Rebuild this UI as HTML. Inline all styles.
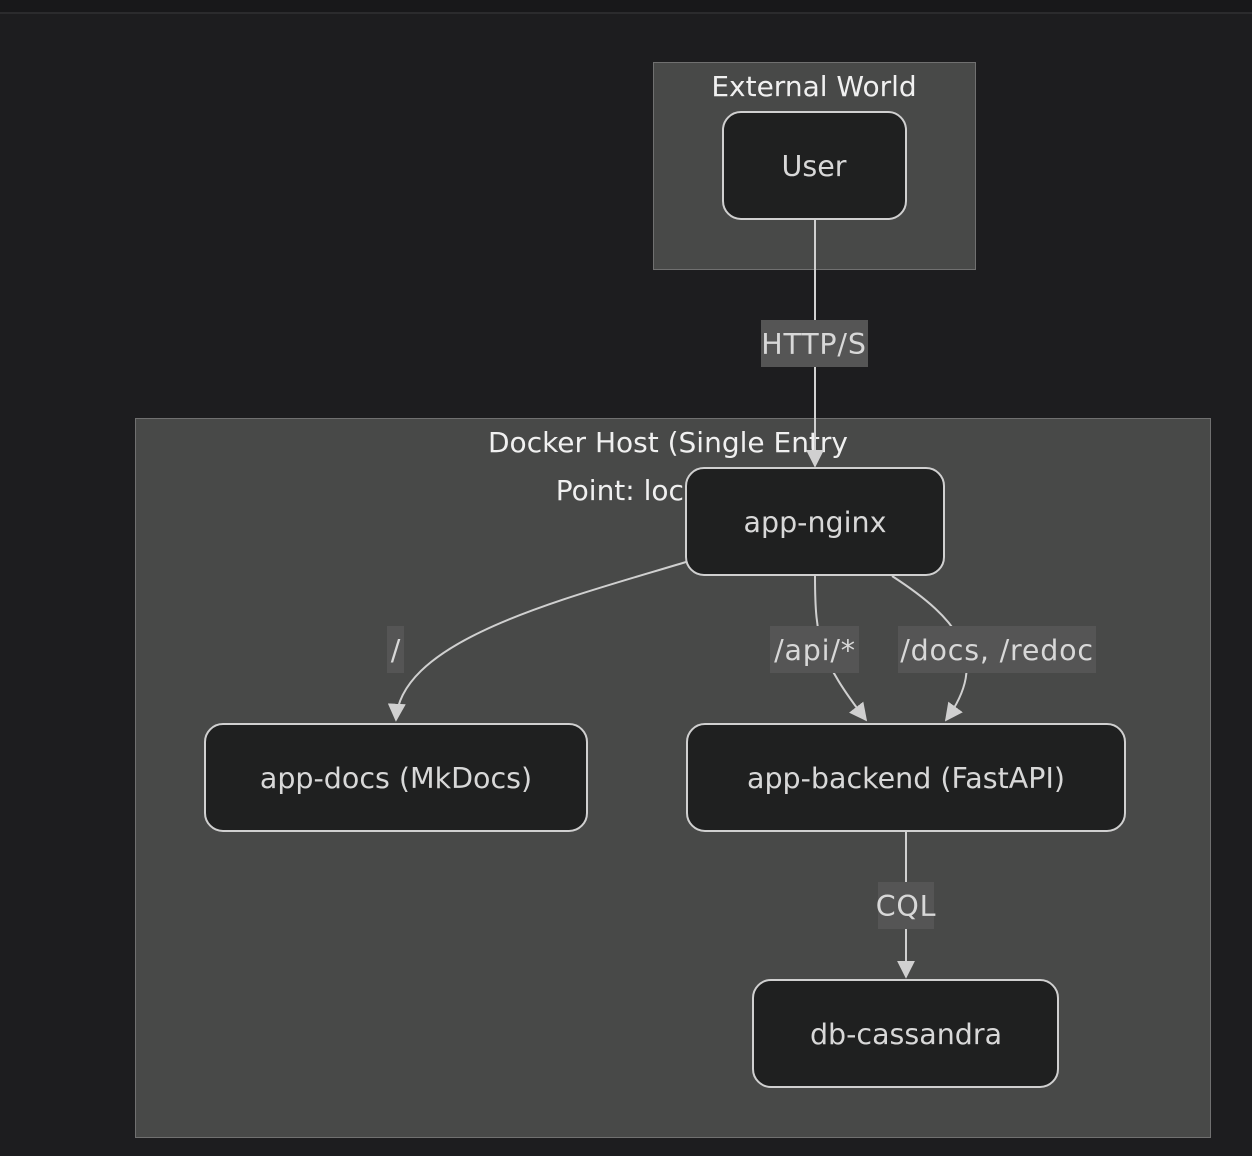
<!DOCTYPE html>
<html><head><style>
html,body{margin:0;padding:0;background:#1d1d1f;}
svg{display:block;font-family:"DejaVu Sans","Liberation Sans",sans-serif;}
</style></head><body>
<svg width="1252" height="1156" viewBox="0 0 1252 1156" xmlns="http://www.w3.org/2000/svg">
<defs><marker id="a" viewBox="0 0 10 10" refX="9" refY="5" markerWidth="9" markerHeight="9" orient="auto-start-reverse"><path d="M0,0L10,5L0,10z" fill="#d0d0d0"/></marker></defs>
<rect x="0" y="0" width="1252" height="12" fill="#18181a"/>
<rect x="0" y="12" width="1252" height="2" fill="#2b2b2d"/>
<rect x="653.5" y="62.5" width="322" height="207" fill="#484948" stroke="#707070"/>
<text x="814" y="96" fill="#f0f0f0" font-size="28" text-anchor="middle">External World</text>
<rect x="135.5" y="418.5" width="1075" height="719" fill="#484948" stroke="#707070"/>
<text x="668" y="452" fill="#f0f0f0" font-size="28" text-anchor="middle">Docker Host (Single Entry</text>
<text x="668" y="500" fill="#f0f0f0" font-size="28" text-anchor="middle">Point: localhost)</text>
<g fill="none" stroke="#d0d0d0" stroke-width="2">
<path d="M815,220V466" marker-end="url(#a)"/>
<path d="M686,562C560,600,400,640,396,720" marker-end="url(#a)"/>
<path d="M815,576C815,640,820,660,866,720" marker-end="url(#a)"/>
<path d="M892,576C960,620,990,660,946,720" marker-end="url(#a)"/>
<path d="M906,832V977" marker-end="url(#a)"/>
</g>
<g font-size="28.5" text-anchor="middle" fill="#d8d8d8" letter-spacing="0.8">
<rect x="761" y="320" width="107" height="47" fill="#555"/><text x="814" y="354">HTTP/S</text>
<rect x="387" y="626" width="17" height="47" fill="#555"/><text x="396" y="660">/</text>
<rect x="770" y="626" width="89" height="47" fill="#555"/><text x="815" y="660">/api/*</text>
<rect x="898" y="626" width="198" height="47" fill="#555"/><text x="997" y="660">/docs, /redoc</text>
<rect x="878" y="882" width="56" height="47" fill="#555"/><text x="906" y="916">CQL</text>
</g>
<g fill="#1f2020" stroke="#d0d0d0" stroke-width="2">
<rect x="723" y="112" width="183" height="107" rx="18"/>
<rect x="686" y="468" width="258" height="107" rx="18"/>
<rect x="205" y="724" width="382" height="107" rx="18"/>
<rect x="687" y="724" width="438" height="107" rx="18"/>
<rect x="753" y="980" width="305" height="107" rx="18"/>
</g>
<g font-size="28.5" text-anchor="middle" fill="#d8d8d8">
<text x="814" y="176">User</text>
<text x="815" y="532">app-nginx</text>
<text x="396" y="788">app-docs (MkDocs)</text>
<text x="906" y="788">app-backend (FastAPI)</text>
<text x="906" y="1044">db-cassandra</text>
</g>
</svg>
</body></html>
